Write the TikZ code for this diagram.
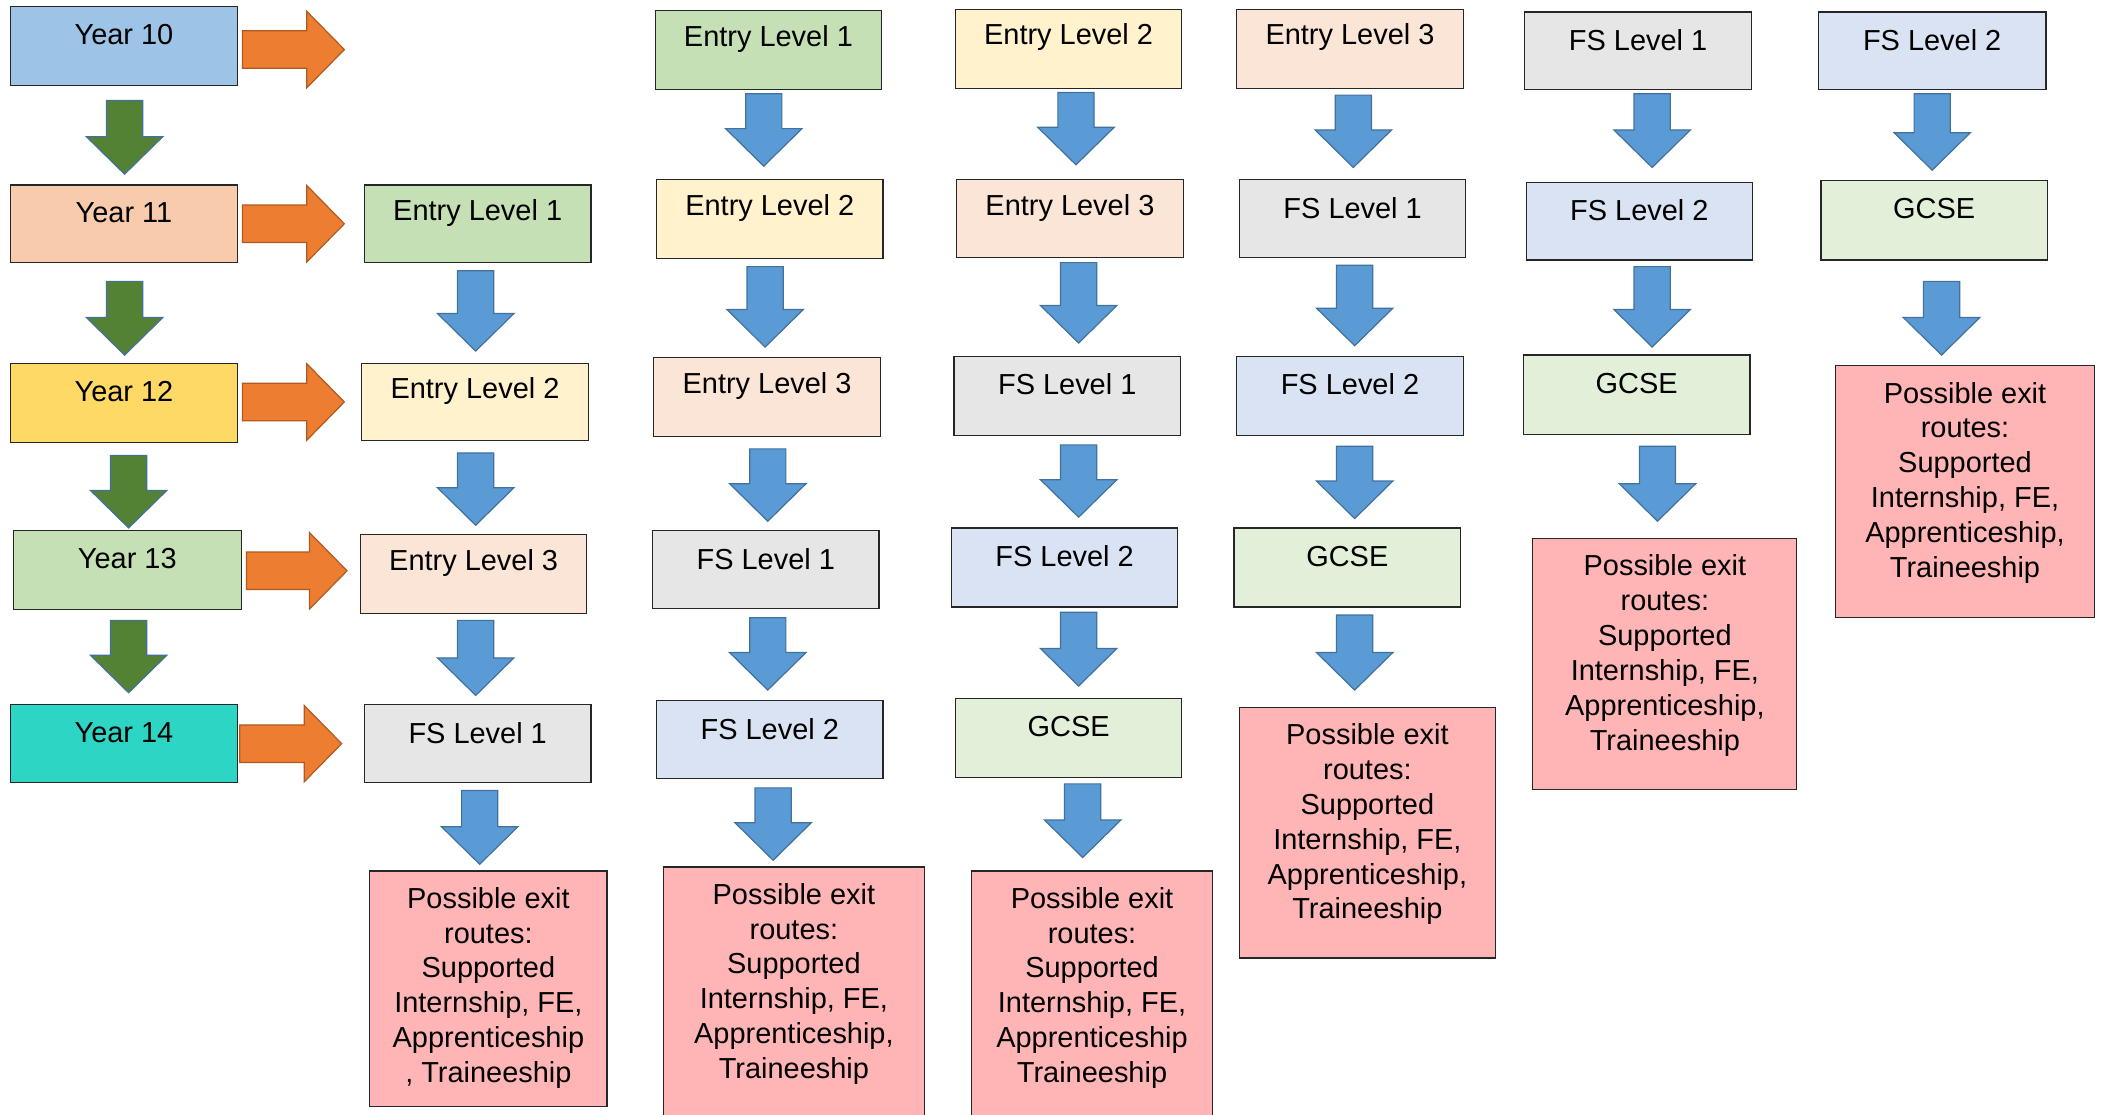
\documentclass[tikz,border=0pt]{standalone}
\usepackage{fontspec}
\setmainfont{Liberation Sans}
\definecolor{yrA}{HTML}{9DC3E6}
\definecolor{yrB}{HTML}{F8CBAD}
\definecolor{yrC}{HTML}{FFD966}
\definecolor{yrD}{HTML}{C5E0B4}
\definecolor{yrE}{HTML}{2DD6C4}
\definecolor{elA}{HTML}{C5E0B4}
\definecolor{elB}{HTML}{FFF2CC}
\definecolor{elC}{HTML}{FBE5D6}
\definecolor{fsA}{HTML}{E7E6E6}
\definecolor{fsB}{HTML}{DAE3F3}
\definecolor{gcse}{HTML}{E2F0D9}
\definecolor{exitc}{HTML}{FFB5B5}
\definecolor{blueF}{HTML}{5B9BD5}
\definecolor{blueD}{HTML}{41719C}
\definecolor{greenF}{HTML}{548235}
\definecolor{orangeF}{HTML}{ED7D31}
\definecolor{orangeD}{HTML}{AE5A21}
\tikzset{
  box/.style={draw=black!85, line width=0.9pt, rectangle, inner sep=0pt, outer sep=0pt, anchor=north west},
  lbl/.style={font=\fontsize{21.6}{26}\selectfont, inner sep=0pt},
  exitlbl/.style={lbl, align=center, anchor=north},
  bluearrow/.style={fill=blueF, draw=blueD, line width=0.9pt, line join=miter},
  greenarrow/.style={fill=greenF, draw=blueD, line width=0.9pt, line join=miter},
  orangearrow/.style={fill=orangeF, draw=orangeD, line width=0.9pt, line join=miter}
}
% a box with a single line of text near its top edge
\newcommand\stagebox[7]{%
  \node[box, fill=#6, minimum width={(#4-#2)*1pt}, minimum height={(#5-#3)*1pt}] (#1) at (#2,#3) {};
  \node[lbl] (#1-t) at ([yshift=-21pt]#1.north) {#7};
}
% an exit box with several lines of text
\newcommand\exitbox[6]{%
  \node[box, fill=exitc, minimum width={(#4-#2)*1pt}, minimum height={(#5-#3)*1pt}] (#1) at (#2,#3) {};
  \node[exitlbl] (#1-t) at ([yshift=-12pt]#1.north) {#6};
}
% block arrow pointing down: style, centre x, top y, tip y
\newcommand\blkdown[4]{%
  \path[#1] ({#2-13.5},#3) -- ({#2+13.5},#3) -- ({#2+13.5},{#4-28}) -- ({#2+28.5},{#4-28})
    -- (#2,#4) -- ({#2-28.5},{#4-28}) -- ({#2-13.5},{#4-28}) -- cycle;
}
% block arrow pointing right: centre y, start x, tip x
\newcommand\blkright[3]{%
  \path[orangearrow] (#2,{#1-14}) -- ({#3-28},{#1-14}) -- ({#3-28},{#1-28.5}) -- (#3,#1)
    -- ({#3-28},{#1+28.5}) -- ({#3-28},{#1+14}) -- (#2,{#1+14}) -- cycle;
}
\newcommand\exittext{Possible exit\\routes:\\Supported\\Internship, FE,\\Apprenticeship,\\Traineeship}
\begin{document}
\begin{tikzpicture}[x=1pt, y=-1pt]
\useasboundingbox[fill=white] (0,0) rectangle (1568,832);

% school years
\stagebox{y10}{8}{5}{177}{64}{yrA}{Year 10}
\stagebox{y11}{8}{138}{177}{196}{yrB}{Year 11}
\stagebox{y12}{8}{271}{177}{330}{yrC}{Year 12}
\stagebox{y13}{10}{396}{180}{455}{yrD}{Year 13}
\stagebox{y14}{8}{526}{177}{584}{yrE}{Year 14}
\blkdown{greenarrow}{93}{75}{130}
\blkdown{greenarrow}{93}{210}{265}
\blkdown{greenarrow}{96}{340}{394}
\blkdown{greenarrow}{96}{463}{517}
\blkright{37}{181}{257}
\blkright{167}{181}{257}
\blkright{300}{181}{257}
\blkright{426}{184}{259}
\blkright{555}{179}{255}

% route starting at Entry Level 1 in Year 11
\stagebox{a1}{272}{138}{441}{196}{elA}{Entry Level 1}
\stagebox{a2}{270}{271}{439}{329}{elB}{Entry Level 2}
\stagebox{a3}{269}{399}{438}{458}{elC}{Entry Level 3}
\stagebox{a4}{272}{526}{441}{584}{fsA}{FS Level 1}
\exitbox{a5}{276}{650}{453}{826}{Possible exit\\routes:\\Supported\\Internship, FE,\\Apprenticeship\\, Traineeship}
\blkdown{bluearrow}{355}{202}{262}
\blkdown{bluearrow}{355}{338}{392}
\blkdown{bluearrow}{355}{463}{519}
\blkdown{bluearrow}{358}{590}{645}

% route starting at Entry Level 1 in Year 10
\stagebox{b1}{489}{8}{658}{67}{elA}{Entry Level 1}
\stagebox{b2}{490}{134}{659}{193}{elB}{Entry Level 2}
\stagebox{b3}{488}{267}{657}{326}{elC}{Entry Level 3}
\stagebox{b4}{487}{396}{656}{454}{fsA}{FS Level 1}
\stagebox{b5}{490}{523}{659}{581}{fsB}{FS Level 2}
\exitbox{b6}{495}{647}{690}{840}{\exittext}
\blkdown{bluearrow}{570}{70}{124}
\blkdown{bluearrow}{571}{199}{259}
\blkdown{bluearrow}{573}{335}{389}
\blkdown{bluearrow}{573}{461}{515}
\blkdown{bluearrow}{577}{588}{642}

% route starting at Entry Level 2
\stagebox{c1}{713}{7}{882}{66}{elB}{Entry Level 2}
\stagebox{c2}{714}{134}{883}{192}{elC}{Entry Level 3}
\stagebox{c3}{712}{266}{881}{325}{fsA}{FS Level 1}
\stagebox{c4}{710}{394}{879}{453}{fsB}{FS Level 2}
\stagebox{c5}{713}{521}{882}{580}{gcse}{GCSE}
\exitbox{c6}{725}{650}{905}{840}{Possible exit\\routes:\\Supported\\Internship, FE,\\Apprenticeship\\Traineeship}
\blkdown{bluearrow}{803}{69}{123}
\blkdown{bluearrow}{805}{196}{256}
\blkdown{bluearrow}{805}{332}{386}
\blkdown{bluearrow}{805}{457}{512}
\blkdown{bluearrow}{808}{585}{640}

% route starting at Entry Level 3
\stagebox{d1}{923}{7}{1092}{66}{elC}{Entry Level 3}
\stagebox{d2}{925}{134}{1094}{192}{fsA}{FS Level 1}
\stagebox{d3}{923}{266}{1092}{325}{fsB}{FS Level 2}
\stagebox{d4}{921}{394}{1090}{453}{gcse}{GCSE}
\exitbox{d5}{925}{528}{1116}{715}{\exittext}
\blkdown{bluearrow}{1010}{71}{125}
\blkdown{bluearrow}{1011}{198}{258}
\blkdown{bluearrow}{1011}{333}{387}
\blkdown{bluearrow}{1011}{459}{515}

% route starting at FS Level 1
\stagebox{e1}{1138}{9}{1307}{67}{fsA}{FS Level 1}
\stagebox{e2}{1139}{136}{1308}{194}{fsB}{FS Level 2}
\stagebox{e3}{1137}{265}{1306}{324}{gcse}{GCSE}
\exitbox{e4}{1144}{402}{1341}{589}{\exittext}
\blkdown{bluearrow}{1233}{70}{125}
\blkdown{bluearrow}{1233}{199}{259}
\blkdown{bluearrow}{1237}{333}{389}

% route starting at FS Level 2
\stagebox{f1}{1357}{9}{1527}{67}{fsB}{FS Level 2}
\stagebox{f2}{1359}{135}{1528}{194}{gcse}{GCSE}
\exitbox{f3}{1370}{273}{1563}{461}{\exittext}
\blkdown{bluearrow}{1442}{70}{127}
\blkdown{bluearrow}{1449}{210}{265}
\end{tikzpicture}
\end{document}
